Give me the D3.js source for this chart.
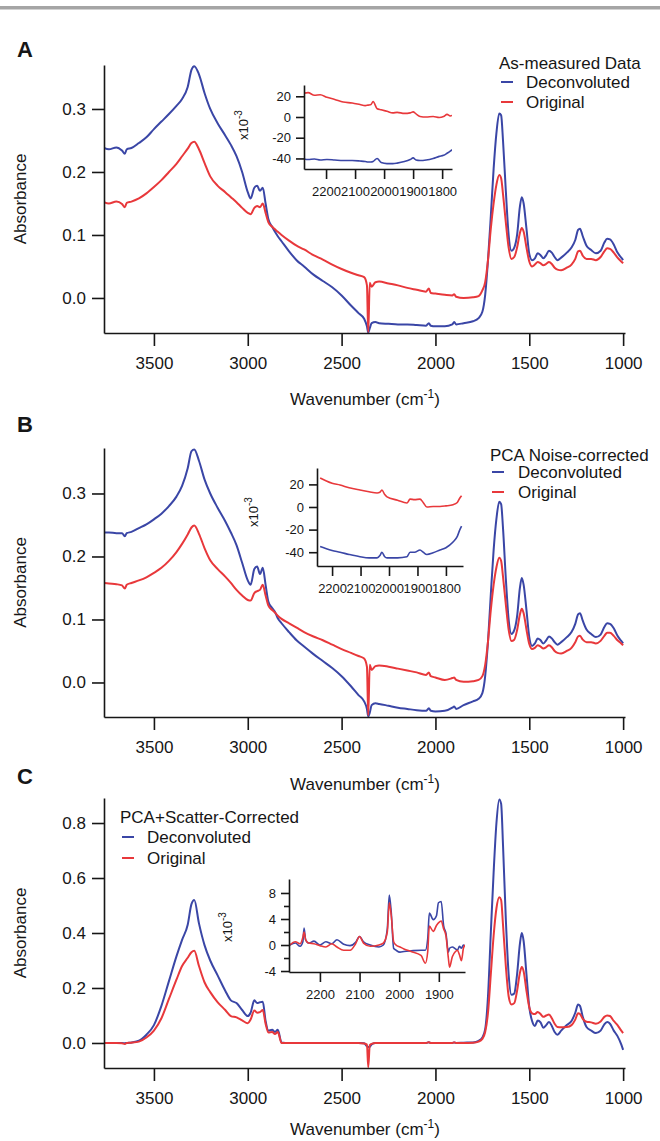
<!DOCTYPE html>
<html lang="en">
<head>
<meta charset="UTF-8">
<title>FTIR spectra - deconvolution</title>
<style>
  body { margin: 0; background: #fff; }
  svg { display: block; font-family: "Liberation Sans", Arial, sans-serif; }
</style>
</head>
<body>
<div id="chart"></div>
<script src="https://d3js.org/d3.v7.min.js"></script>
<script>
// wavenumber grid shared by the three main spectra (cm-1)
const wavenumbers = [
  3766, 3740, 3700, 3670, 3655, 3645, 3620, 3580, 3540, 3500,
  3460, 3420, 3380, 3350, 3320, 3300, 3285, 3260, 3230, 3200,
  3160, 3120, 3090, 3060, 3030, 3000, 2985, 2965, 2950, 2935,
  2920, 2905, 2890, 2870, 2855, 2840, 2820, 2780, 2740, 2700,
  2650, 2600, 2550, 2500, 2450, 2410, 2380, 2365, 2358, 2350,
  2340, 2320, 2300, 2250, 2200, 2150, 2100, 2050, 2035, 2025,
  2000, 1950, 1910, 1900, 1890, 1850, 1800, 1770, 1750, 1735,
  1720, 1705, 1690, 1675, 1660, 1650, 1640, 1625, 1610, 1595,
  1580, 1565, 1550, 1540, 1530, 1515, 1500, 1485, 1470, 1455,
  1440, 1425, 1410, 1395, 1380, 1365, 1350, 1330, 1300, 1275,
  1255, 1240, 1230, 1215, 1195, 1170, 1145, 1120, 1100, 1085,
  1070, 1050, 1030, 1010, 1000
];

// A: as-measured
const deconvA = [
  0.238, 0.236, 0.239, 0.234, 0.229, 0.236, 0.238, 0.246, 0.255, 0.268,
  0.280, 0.292, 0.305, 0.316, 0.335, 0.362, 0.368, 0.355, 0.325, 0.300,
  0.277, 0.258, 0.243, 0.225, 0.200, 0.168, 0.158, 0.175, 0.178, 0.170,
  0.175, 0.150, 0.125, 0.113, 0.105, 0.098, 0.090, 0.074, 0.060, 0.050,
  0.037, 0.027, 0.017, 0.004, -0.012, -0.024, -0.033, -0.045, -0.055, -0.048,
  -0.040, -0.038, -0.040, -0.041, -0.042, -0.042, -0.043, -0.044, -0.040, -0.044,
  -0.045, -0.045, -0.042, -0.038, -0.042, -0.040, -0.037, -0.032, -0.022, 0.005,
  0.060, 0.130, 0.205, 0.262, 0.293, 0.290, 0.250, 0.170, 0.100, 0.075,
  0.080, 0.100, 0.145, 0.160, 0.150, 0.110, 0.070, 0.060, 0.063, 0.071,
  0.068, 0.063, 0.068, 0.075, 0.072, 0.065, 0.060, 0.064, 0.072, 0.080,
  0.092, 0.108, 0.110, 0.098, 0.083, 0.076, 0.071, 0.075, 0.088, 0.094,
  0.093, 0.085, 0.072, 0.064, 0.060
];
const originalA = [
  0.152, 0.150, 0.153, 0.149, 0.144, 0.151, 0.153, 0.158, 0.166, 0.176,
  0.187, 0.200, 0.213, 0.225, 0.237, 0.246, 0.248, 0.236, 0.214, 0.193,
  0.178, 0.168, 0.160, 0.152, 0.143, 0.135, 0.133, 0.143, 0.146, 0.144,
  0.150, 0.135, 0.120, 0.113, 0.109, 0.105, 0.100, 0.091, 0.083, 0.077,
  0.068, 0.061, 0.053, 0.046, 0.040, 0.036, 0.033, 0.020, -0.054, 0.024,
  0.018, 0.025, 0.026, 0.023, 0.020, 0.016, 0.013, 0.010, 0.015, 0.008,
  0.007, 0.005, 0.004, 0.006, 0.002, 0.000, 0.001, 0.003, 0.012, 0.025,
  0.060, 0.110, 0.150, 0.180, 0.195, 0.190, 0.165, 0.120, 0.080, 0.062,
  0.065, 0.080, 0.103, 0.111, 0.105, 0.080, 0.058, 0.050, 0.053, 0.057,
  0.055, 0.052, 0.054, 0.057, 0.054, 0.048, 0.045, 0.044, 0.048, 0.053,
  0.062, 0.074, 0.075, 0.067, 0.062, 0.062, 0.060, 0.065, 0.074, 0.079,
  0.078, 0.072, 0.064, 0.058, 0.055
];

// B: PCA noise-corrected
const deconvB = [
  0.238, 0.238, 0.237, 0.237, 0.232, 0.237, 0.239, 0.245, 0.251, 0.259,
  0.268, 0.280, 0.295, 0.312, 0.340, 0.367, 0.370, 0.352, 0.322, 0.300,
  0.277, 0.256, 0.238, 0.218, 0.190, 0.162, 0.155, 0.180, 0.184, 0.172,
  0.182, 0.155, 0.128, 0.118, 0.112, 0.102, 0.094, 0.080, 0.067, 0.057,
  0.045, 0.034, 0.023, 0.010, -0.006, -0.020, -0.030, -0.042, -0.054, -0.048,
  -0.036, -0.033, -0.034, -0.037, -0.040, -0.042, -0.044, -0.045, -0.041, -0.045,
  -0.046, -0.045, -0.040, -0.038, -0.042, -0.036, -0.030, -0.026, -0.017, 0.010,
  0.065, 0.140, 0.210, 0.260, 0.287, 0.283, 0.245, 0.165, 0.100, 0.077,
  0.083, 0.105, 0.150, 0.166, 0.155, 0.115, 0.072, 0.058, 0.062, 0.070,
  0.067, 0.062, 0.067, 0.073, 0.070, 0.064, 0.060, 0.064, 0.072, 0.080,
  0.093, 0.108, 0.110, 0.098, 0.084, 0.077, 0.072, 0.076, 0.088, 0.094,
  0.093, 0.086, 0.074, 0.066, 0.062
];
const originalB = [
  0.158, 0.157, 0.156, 0.154, 0.149, 0.155, 0.158, 0.162, 0.167, 0.174,
  0.182, 0.193, 0.207, 0.220, 0.235, 0.246, 0.249, 0.236, 0.213, 0.194,
  0.180, 0.168, 0.158, 0.147, 0.138, 0.131, 0.130, 0.142, 0.145, 0.147,
  0.155, 0.138, 0.122, 0.115, 0.111, 0.106, 0.101, 0.094, 0.087, 0.080,
  0.073, 0.067, 0.060, 0.053, 0.047, 0.042, 0.038, 0.025, -0.052, 0.028,
  0.020, 0.026, 0.027, 0.025, 0.022, 0.019, 0.016, 0.012, 0.016, 0.010,
  0.008, 0.004, 0.007, 0.008, 0.004, 0.001, 0.002, 0.004, 0.010, 0.028,
  0.065, 0.115, 0.155, 0.183, 0.198, 0.193, 0.168, 0.124, 0.084, 0.066,
  0.068, 0.083, 0.108, 0.117, 0.110, 0.084, 0.061, 0.053, 0.055, 0.059,
  0.057, 0.054, 0.056, 0.059, 0.056, 0.050, 0.047, 0.046, 0.050, 0.055,
  0.064, 0.073, 0.074, 0.068, 0.064, 0.064, 0.062, 0.066, 0.074, 0.079,
  0.079, 0.074, 0.067, 0.062, 0.059
];

// C: PCA + scatter-corrected
const deconvC = [
  0.000, 0.000, 0.000, 0.000, -0.001, 0.000, 0.002, 0.008, 0.030, 0.065,
  0.135, 0.225, 0.315, 0.375, 0.430, 0.505, 0.520, 0.435, 0.355, 0.300,
  0.245, 0.190, 0.155, 0.145, 0.120, 0.098, 0.110, 0.155, 0.145, 0.148,
  0.150, 0.080, 0.045, 0.048, 0.040, 0.048, 0.002, 0.000, 0.000, 0.000,
  0.000, 0.000, 0.000, 0.000, 0.000, 0.000, -0.001, -0.012, -0.015, -0.014,
  -0.005, 0.000, 0.000, 0.000, 0.000, 0.000, 0.000, 0.000, 0.003, 0.000,
  0.000, 0.000, 0.000, 0.002, 0.000, 0.001, 0.002, 0.008, 0.020, 0.050,
  0.170, 0.400, 0.620, 0.800, 0.886, 0.870, 0.720, 0.450, 0.250, 0.175,
  0.180, 0.250, 0.360, 0.400, 0.370, 0.250, 0.130, 0.080, 0.062, 0.082,
  0.075, 0.055, 0.065, 0.076, 0.062, 0.040, 0.030, 0.045, 0.065, 0.080,
  0.110, 0.140, 0.135, 0.095, 0.058, 0.045, 0.036, 0.045, 0.068, 0.076,
  0.070, 0.045, 0.025, -0.005, -0.025
];
const originalC = [
  0.000, 0.000, 0.000, -0.001, -0.004, 0.000, 0.001, 0.005, 0.020, 0.045,
  0.090, 0.160, 0.230, 0.280, 0.310, 0.330, 0.335, 0.280, 0.220, 0.185,
  0.148, 0.120, 0.098, 0.093, 0.082, 0.072, 0.085, 0.118, 0.110, 0.112,
  0.120, 0.070, 0.038, 0.040, 0.033, 0.040, 0.000, 0.000, 0.000, 0.000,
  0.000, 0.000, 0.000, 0.000, 0.000, 0.000, -0.002, -0.006, -0.088, -0.008,
  -0.003, 0.000, 0.000, 0.000, 0.000, 0.000, 0.000, 0.000, 0.003, 0.000,
  0.000, 0.000, 0.000, 0.002, 0.000, 0.000, 0.001, 0.005, 0.015, 0.040,
  0.110, 0.250, 0.390, 0.490, 0.530, 0.520, 0.430, 0.280, 0.170, 0.140,
  0.145, 0.190, 0.255, 0.276, 0.260, 0.190, 0.130, 0.108, 0.105, 0.113,
  0.105, 0.095, 0.100, 0.104, 0.090, 0.070, 0.058, 0.057, 0.058, 0.065,
  0.085, 0.108, 0.105, 0.088, 0.077, 0.075, 0.070, 0.078, 0.095, 0.100,
  0.098, 0.080, 0.065, 0.045, 0.036
];

// insets, x10^-3 absorbance
const insetWnA = [2276, 2262, 2240, 2220, 2197, 2170, 2141, 2110, 2083, 2065,
  2055, 2045, 2038, 2024, 2010, 1990, 1970, 1955, 1930, 1910,
  1900, 1890, 1876, 1855, 1831, 1810, 1795, 1783, 1772, 1766];
const insetDeconvA = [-40.5, -41, -40.5, -41.5, -41, -41.5, -42, -42, -42.5, -43,
  -43.5, -43.5, -43, -40, -44, -45, -45, -44.5, -43, -41,
  -39.5, -41.5, -42, -41.5, -40, -38, -37, -35, -33, -31.5];
const insetOriginalA = [23, 23.5, 21, 21.5, 19, 17, 14.5, 13.5, 12, 11,
  11.5, 12, 15, 8, 7, 5.5, 4, 4.5, 3.5, 4,
  5, 3, 0.5, 0, 0.5, -0.5, 0.5, 2.5, 1, 1.5];

const insetWnB = [2242, 2220, 2200, 2172, 2140, 2102, 2070, 2042, 2032, 2025,
  2015, 2007, 1970, 1937, 1926, 1910, 1891, 1880, 1867, 1845,
  1821, 1800, 1775, 1760, 1751, 1745];
const insetDeconvB = [-35, -37, -38.5, -40, -42, -44, -45, -45, -43, -40,
  -44, -45, -45, -44, -40, -40, -38, -40, -42, -40.5,
  -38, -36, -31, -26, -20, -17];
const insetOriginalB = [25.7, 23, 21, 19.5, 17, 15, 13.5, 12.4, 13, 15,
  11, 9, 6, 3.5, 7, 6.5, 7, 4, 0, 0.5,
  0.5, 1, 2, 4, 8, 10];

const insetWnC = [2276, 2262, 2250, 2243, 2240, 2236, 2228, 2215, 2200, 2185,
  2170, 2157, 2140, 2124, 2110, 2100, 2090, 2073, 2051, 2040,
  2030, 2025, 2020, 2014, 2008, 1998, 1988, 1970, 1945, 1934,
  1928, 1924, 1914, 1906, 1901, 1894, 1888, 1882, 1876, 1873,
  1866, 1858, 1853, 1848, 1843, 1838, 1834];
const insetDeconvC = [0, 0.3, -0.2, 0.5, 2.6, 0.8, 0.3, 0.6, 0, 0.5,
  0.2, 0.8, 0.1, -0.1, 0.4, 1.3, 0.5, 0, -0.3, 0,
  2.5, 7.7, 5, -0.5, -0.8, -1.1, -1, -0.9, -0.8, -0.8,
  1, 4.9, 3.9, 4.5, 6.5, 6.7, 3, 1.8, -1.1, -0.5,
  -0.3, -0.6, -0.8, -0.2, -0.5, 0, -0.2];
const insetOriginalC = [0, 0.5, 0.2, 1.2, 2, 0.8, 0.3, 0.2, -0.1, -0.3,
  0.2, -0.3, -0.8, -0.8, 0.2, 1.3, 0.3, -0.2, 0, 0.3,
  2, 6.5, 4.5, 0.5, 0, -0.3, -0.6, -1, -1.6, -2.8,
  -1, 2.9, 2.1, 3, 3.4, 3.7, 2.5, 1.4, -2, -3.4,
  -1.8, -1, -0.8, -1.5, -2.4, -0.5, 0];

const mainTicksX = [3500, 3000, 2500, 2000, 1500, 1000];
const seriesNames = ["Deconvoluted", "Original"];
const legendTitles = ["As-measured Data", "PCA Noise-corrected", "PCA+Scatter-Corrected"];

const blue = "#3a46a6";
const red = "#e8383b";
const ink = "#161616";

const svg = d3.select("#chart").append("svg")
    .attr("width", 660)
    .attr("height", 1141);

// grey rule along the top
svg.append("rect")
    .attr("x", 0).attr("y", 6)
    .attr("width", 660).attr("height", 3.5)
    .attr("fill", "#a5a5a5");

const x = d3.scaleLinear().domain([3766, 990]).range([104, 625]);

const panels = [
    {
        letter: "A", letterY: 57, top: 65, bottom: 333, yDomain: [-0.0556, 0.3698],
        yTicks: [0, 0.1, 0.2, 0.3], deconv: deconvA, original: originalA, wnY: 405,
        legend: { title: legendTitles[0], x: 499, titleY: 63, rows: [82, 102], lineX: 501, textX: 526 },
        inset: {
            left: 304, right: 452, top: 85, bottom: 169, xDomain: [2276, 1766], yDomain: [-50.2, 30.9],
            yTicks: [-40, -20, 0, 20], yMinor: [], xTicks: [2200, 2100, 2000, 1900, 1800],
            wn: insetWnA, deconv: insetDeconvA, original: insetOriginalA, labelX: 243, labelY: 125
        }
    },
    {
        letter: "B", letterY: 432, top: 448, bottom: 717, yDomain: [-0.0548, 0.3722],
        yTicks: [0, 0.1, 0.2, 0.3], deconv: deconvB, original: originalB, wnY: 790,
        legend: { title: legendTitles[1], x: 490, titleY: 455, rows: [472, 492], lineX: 492, textX: 518 },
        inset: {
            left: 317, right: 463, top: 468, bottom: 566, xDomain: [2253, 1740], yDomain: [-52.2, 34.5],
            yTicks: [-40, -20, 0, 20], yMinor: [], xTicks: [2200, 2100, 2000, 1900, 1800],
            wn: insetWnB, deconv: insetDeconvB, original: insetOriginalB, labelX: 253, labelY: 512
        }
    },
    {
        letter: "C", letterY: 784, top: 798, bottom: 1068, yDomain: [-0.091, 0.891],
        yTicks: [0, 0.2, 0.4, 0.6, 0.8], deconv: deconvC, original: originalC, wnY: 1135,
        legend: { title: legendTitles[2], x: 120, titleY: 817, rows: [837, 858], lineX: 122, textX: 147 },
        inset: {
            left: 289, right: 465, top: 879, bottom: 972, xDomain: [2278, 1834], yDomain: [-4.15, 10.15],
            yTicks: [-4, 0, 4, 8], yMinor: [-2, 2, 6], xTicks: [2200, 2100, 2000, 1900],
            wn: insetWnC, deconv: insetDeconvC, original: insetOriginalC, labelX: 227, labelY: 927
        }
    }
];

function styleAxis(g, size) {
    g.attr("font-family", null).attr("font-size", size);
    g.selectAll("path, line").attr("stroke", ink).attr("stroke-width", 1.6);
    g.selectAll("text").attr("fill", ink);
}

function drawLine(g, xs, ys, wn, vals, color, w, clipId) {
    const line = d3.line()
        .x((d, i) => xs(wn[i]))
        .y(d => ys(d))
        .curve(d3.curveMonotoneX);
    g.append("path")
        .datum(vals)
        .attr("clip-path", `url(#${clipId})`)
        .attr("fill", "none")
        .attr("stroke", color)
        .attr("stroke-width", w)
        .attr("stroke-linejoin", "round")
        .attr("d", line);
}

panels.forEach((p, k) => {
    const g = svg.append("g");
    const y = d3.scaleLinear().domain(p.yDomain).range([p.bottom, p.top]);

    const clipId = "clip-main-" + k;
    svg.append("clipPath").attr("id", clipId).append("rect")
        .attr("x", 104).attr("y", p.top - 2).attr("width", 523).attr("height", p.bottom - p.top + 2);

    g.append("text")
        .attr("x", 17).attr("y", p.letterY)
        .attr("font-size", 22).attr("font-weight", "bold").attr("fill", ink)
        .text(p.letter);

    // series
    drawLine(g, x, y, wavenumbers, p.deconv, blue, 2, clipId);
    drawLine(g, x, y, wavenumbers, p.original, red, 2, clipId);

    // axes
    g.append("g")
        .attr("transform", `translate(104,0)`)
        .call(d3.axisLeft(y).tickValues(p.yTicks).tickFormat(d3.format(".1f")).tickSize(12).tickSizeOuter(0).tickPadding(6))
        .call(s => styleAxis(s, 17));
    g.append("g")
        .attr("transform", `translate(0,${p.bottom})`)
        .call(d3.axisBottom(x).tickValues(mainTicksX).tickFormat(d => d).tickSize(13).tickSizeOuter(0).tickPadding(11))
        .call(s => styleAxis(s, 17));

    // axis titles
    g.append("text")
        .attr("transform", `translate(26,${(p.top + p.bottom) / 2}) rotate(-90)`)
        .attr("text-anchor", "middle").attr("font-size", 17).attr("fill", ink)
        .text("Absorbance");
    const wt = g.append("text")
        .attr("x", 365).attr("y", p.wnY)
        .attr("text-anchor", "middle").attr("font-size", 17).attr("fill", ink);
    wt.append("tspan").text("Wavenumber (cm");
    wt.append("tspan").attr("dy", -7).attr("font-size", 12).text("-1");
    wt.append("tspan").attr("dy", 7).text(")");

    // legend
    const lg = g.append("g");
    lg.append("text")
        .attr("x", p.legend.x).attr("y", p.legend.titleY).attr("dy", "0.35em")
        .attr("font-size", 17).attr("fill", ink).text(p.legend.title);
    [blue, red].forEach((c, i) => {
        lg.append("line")
            .attr("x1", p.legend.lineX).attr("x2", p.legend.lineX + 12)
            .attr("y1", p.legend.rows[i]).attr("y2", p.legend.rows[i])
            .attr("stroke", c).attr("stroke-width", 2);
        lg.append("text")
            .attr("x", p.legend.textX).attr("y", p.legend.rows[i]).attr("dy", "0.35em")
            .attr("font-size", 17).attr("fill", ink).text(seriesNames[i]);
    });

    // inset
    const ins = p.inset;
    const ix = d3.scaleLinear().domain(ins.xDomain).range([ins.left, ins.right]);
    const iy = d3.scaleLinear().domain(ins.yDomain).range([ins.bottom, ins.top]);
    const iclip = "clip-inset-" + k;
    svg.append("clipPath").attr("id", iclip).append("rect")
        .attr("x", ins.left).attr("y", ins.top).attr("width", ins.right - ins.left).attr("height", ins.bottom - ins.top);

    const ig = g.append("g");
    drawLine(ig, ix, iy, ins.wn, ins.deconv, blue, 1.6, iclip);
    drawLine(ig, ix, iy, ins.wn, ins.original, red, 1.6, iclip);

    ig.append("g")
        .attr("transform", `translate(${ins.left},0)`)
        .call(d3.axisLeft(iy).tickValues(ins.yTicks).tickFormat(d => String(d)).tickSize(8).tickSizeOuter(0).tickPadding(5))
        .call(s => styleAxis(s, 13));
    if (ins.yMinor.length) {
        ig.append("g")
            .attr("transform", `translate(${ins.left},0)`)
            .call(d3.axisLeft(iy).tickValues(ins.yMinor).tickFormat("").tickSize(5).tickSizeOuter(0))
            .call(s => styleAxis(s, 13))
            .call(s => s.select(".domain").remove());
    }
    ig.append("g")
        .attr("transform", `translate(0,${ins.bottom})`)
        .call(d3.axisBottom(ix).tickValues(ins.xTicks).tickFormat(d => d).tickSize(10).tickSizeOuter(0).tickPadding(8))
        .call(s => styleAxis(s, 13));

    const il = ig.append("text")
        .attr("transform", `translate(${ins.labelX + 5},${ins.labelY}) rotate(-90)`)
        .attr("text-anchor", "middle").attr("font-size", 13).attr("fill", ink);
    il.append("tspan").text("x10");
    il.append("tspan").attr("dy", -6).attr("font-size", 10).text("-3");
});
</script>
</body>
</html>
